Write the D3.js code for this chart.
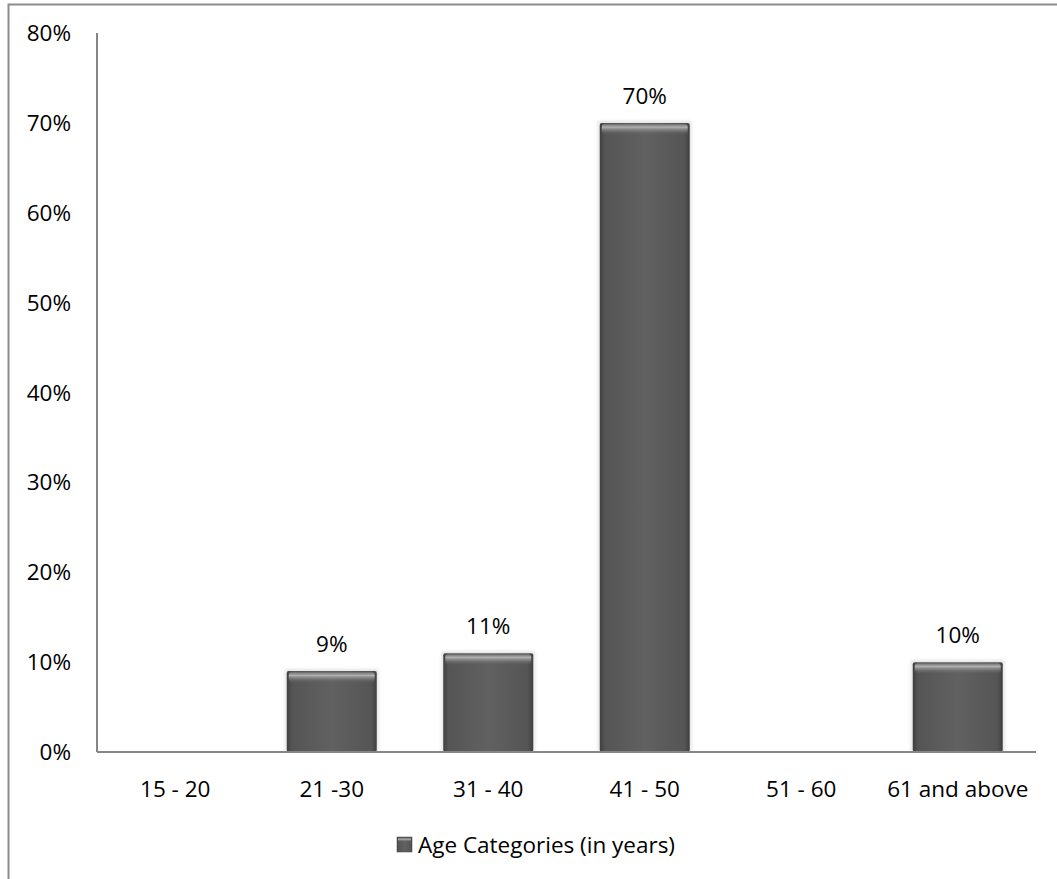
<!DOCTYPE html>
<html><head><meta charset="utf-8">
<script src="https://cdn.jsdelivr.net/npm/d3@7"></script>
<style>body{margin:0;background:#fff}svg{display:block}text{font-family:"Open Sans",sans-serif;fill:#000}</style>
</head><body>
<script>
const categories = ["15 - 20","21 -30","31 - 40","41 - 50","51 - 60","61 and above"];
const values = [0, 0.09, 0.11, 0.70, 0, 0.10];
const dataLabels = ["", "9%", "11%", "70%", "", "10%"];
const yTicks = [0,0.1,0.2,0.3,0.4,0.5,0.6,0.7,0.8];
const seriesName = "Age Categories (in years)";

const W=1057,H=879,FS="22.5px";
const svg=d3.select("body").append("svg").attr("width",W).attr("height",H);
const defs=svg.append("defs");
const hg=defs.append("linearGradient").attr("id","hg").attr("x1",0).attr("x2",1).attr("y1",0).attr("y2",0);
[[0,"#3f3f3f"],[0.06,"#555"],[0.5,"#616161"],[0.94,"#555"],[1,"#3f3f3f"]].forEach(s=>hg.append("stop").attr("offset",s[0]).attr("stop-color",s[1]));
const tg=defs.append("linearGradient").attr("id","tg").attr("x1",0).attr("x2",0).attr("y1",0).attr("y2",1);
[[0,"#6a6a6a",1],[0.3,"#b0b0b0",1],[1,"#616161",0]].forEach(s=>tg.append("stop").attr("offset",s[0]).attr("stop-color",s[1]).attr("stop-opacity",s[2]));
const fl=defs.append("filter").attr("id","sh").attr("x","-10%").attr("y","-10%").attr("width","120%").attr("height","120%");
fl.append("feGaussianBlur").attr("stdDeviation",1.5);

// outer border (only top/left visible in reference)
svg.append("rect").attr("x",8.5).attr("y",4.5).attr("width",W+20).attr("height",H+20)
  .attr("fill","none").attr("stroke","#8c8c8c").attr("stroke-width",2);

const x0=97,x1=1036,yTop=33,yBase=752;
const x=d3.scaleBand().domain(categories).range([x0,x1]).paddingInner(0.425).paddingOuter(0.2125);
const y=d3.scaleLinear().domain([0,0.8]).range([yBase,yTop]);

// y axis labels
svg.append("g").selectAll("text").data(yTicks).join("text")
  .attr("x",71).attr("y",d=>y(d)).attr("dy","0.36em").attr("text-anchor","end")
  .style("font-size",FS).text(d=>d3.format(".0%")(d));

// bars
const bars=svg.append("g").selectAll("g").data(categories.map((c,i)=>({c,v:values[i],l:dataLabels[i]})).filter(d=>d.v>0)).join("g");
bars.append("rect").attr("x",d=>x(d.c)-2).attr("y",d=>y(d.v)-2).attr("width",x.bandwidth()+4).attr("height",d=>yBase-y(d.v)+2)
  .attr("fill","#ccc").attr("opacity",0.5).attr("filter","url(#sh)");
bars.append("rect").attr("x",d=>x(d.c)).attr("y",d=>y(d.v)).attr("width",x.bandwidth()).attr("height",d=>yBase-y(d.v))
  .attr("rx",2).attr("fill","url(#hg)");
bars.append("rect").attr("x",d=>x(d.c)+2).attr("y",d=>y(d.v)+1).attr("width",x.bandwidth()-4).attr("height",11)
  .attr("rx",3).attr("fill","url(#tg)");
bars.append("text").attr("x",d=>x(d.c)+x.bandwidth()/2).attr("y",d=>y(d.v)-19)
  .attr("text-anchor","middle").style("font-size",FS).text(d=>d.l);

// axes lines
svg.append("line").attr("x1",x0).attr("x2",x0).attr("y1",yTop).attr("y2",yBase).attr("stroke","#868686").attr("stroke-width",2);
svg.append("line").attr("x1",x0).attr("x2",x1).attr("y1",yBase).attr("y2",yBase).attr("stroke","#868686").attr("stroke-width",2);

// x labels
svg.append("g").selectAll("text").data(categories).join("text")
  .attr("x",d=>x(d)+x.bandwidth()/2).attr("y",797).attr("text-anchor","middle")
  .style("font-size",FS).text(d=>d);

// legend
const lg=svg.append("g");
lg.append("rect").attr("x",397).attr("y",837).attr("width",15).attr("height",15).attr("fill","url(#hg)").attr("stroke","#444").attr("stroke-width",0.5);
lg.append("rect").attr("x",398).attr("y",838).attr("width",13).attr("height",4).attr("fill","url(#tg)");
lg.append("text").attr("x",418).attr("y",853).style("font-size",FS).text(seriesName);
</script>
</body></html>
